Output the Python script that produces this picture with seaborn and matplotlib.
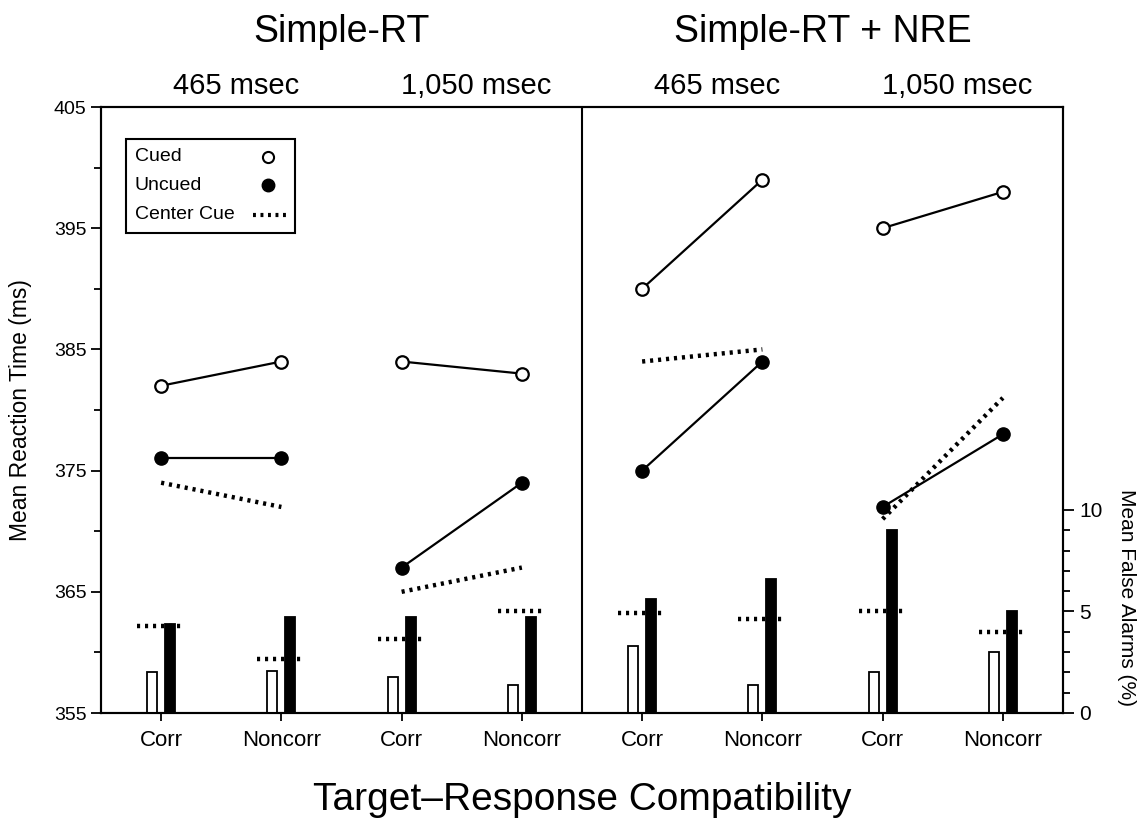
import numpy as np
import pandas as pd
import seaborn as sns
import matplotlib.pyplot as plt
from matplotlib.patches import Rectangle
from matplotlib.ticker import MultipleLocator, FixedLocator
from matplotlib.transforms import blended_transform_factory

sns.set_style("ticks", {"axes.edgecolor": "black", "xtick.color": "black",
                        "ytick.color": "black", "text.color": "black",
                        "axes.labelcolor": "black"})
plt.rcParams["font.family"] = ["Liberation Sans", "DejaVu Sans"]

# x layout: 2 tasks x 2 SOAs x 2 compatibility levels
tasks = ["Simple-RT", "Simple-RT + NRE"]
soas = ["465 msec", "1,050 msec", "465 msec", "1,050 msec"]
compat = ["Corr", "Noncorr"] * 4

# mean reaction time (ms)
rt_cued = [382, 384, 384, 383, 390, 399, 395, 398]
rt_uncued = [376, 376, 367, 374, 375, 384, 372, 378]
rt_center = [374, 372, 365, 367, 384, 385, 371, 381]

# mean false alarms (%)
fa_cued = [2.0, 2.05, 1.75, 1.4, 3.3, 1.4, 2.0, 3.0]
fa_uncued = [4.4, 4.75, 4.75, 4.75, 5.6, 6.6, 9.0, 5.0]
fa_center = [4.3, 2.65, 3.65, 5.0, 4.95, 4.65, 5.0, 4.0]

pos = np.arange(len(compat))
seg = pos // 2

rt = pd.DataFrame({
    "pos": np.tile(pos, 3),
    "seg": np.tile(seg, 3),
    "rt": rt_cued + rt_uncued + rt_center,
    "cue": ["Cued"] * 8 + ["Uncued"] * 8 + ["Center Cue"] * 8,
})
fa = pd.DataFrame({
    "pos": np.tile(pos, 2),
    "fa": fa_cued + fa_uncued,
    "cue": ["Cued"] * 8 + ["Uncued"] * 8,
})

dots = (0, (0.7, 1.1))

fig = plt.figure(figsize=(11.48, 8.24), dpi=100)
ax = fig.add_axes([101 / 1148, 1 - 713 / 824, 962 / 1148, 606 / 824])
ax2 = ax.twinx()

# RT lines
sns.lineplot(data=rt[rt.cue == "Cued"], x="pos", y="rt", units="seg",
             estimator=None, color="black", lw=1.6, marker="o", markersize=9,
             markerfacecolor="white", markeredgecolor="black",
             markeredgewidth=1.6, legend=False, ax=ax)
sns.lineplot(data=rt[rt.cue == "Uncued"], x="pos", y="rt", units="seg",
             estimator=None, color="black", lw=1.6, marker="o", markersize=9.5,
             markerfacecolor="black", markeredgecolor="black",
             markeredgewidth=1, legend=False, ax=ax)
sns.lineplot(data=rt[rt.cue == "Center Cue"], x="pos", y="rt", units="seg",
             estimator=None, color="black", lw=3.2, linestyle=dots,
             legend=False, ax=ax)

# false alarm bars on the right axis
sns.barplot(data=fa, x="pos", y="fa", hue="cue", hue_order=["Cued", "Uncued"],
            palette={"Cued": "white", "Uncued": "black"}, edgecolor="black",
            linewidth=1.3, width=0.3, gap=0.45, native_scale=True,
            errorbar=None, legend=False, ax=ax2)
ax2.hlines(fa_center, pos - 0.2, pos + 0.2, colors="black", lw=3.2,
           linestyles=[dots])

ax.axvline(3.5, color="black", lw=1.5)

ax.set_xlim(-0.5, 7.5)
ax.set_ylim(355, 405)
ax.set_yticks(range(355, 406, 10))
ax.yaxis.set_minor_locator(MultipleLocator(5))
ax.set_xticks(pos)
ax.set_xticklabels(compat, fontsize=16)
ax.tick_params(axis="y", labelsize=14, length=7, width=1.3)
ax.tick_params(axis="y", which="minor", length=5, width=1.3)
ax.tick_params(axis="x", length=6, width=1.3, pad=6)
ax.set_xlabel("")
ax.set_ylabel("Mean Reaction Time (ms)", fontsize=16.5)
ax.yaxis.set_label_coords(-0.072, 0.5)

ax2.set_xlim(-0.5, 7.5)
ax2.set_ylim(0, 29.85)
ax2.set_yticks([0, 5, 10])
ax2.yaxis.set_minor_locator(FixedLocator(range(0, 11)))
ax2.tick_params(axis="y", labelsize=15, length=8, width=1.3)
ax2.tick_params(axis="y", which="minor", length=5, width=1.3)
ax2.set_xlabel("")
ax2.set_ylabel("Mean False Alarms (%)", fontsize=15, rotation=270, va="center")
ax2.yaxis.set_label_coords(1.066, 0.19)

for a in (ax, ax2):
    for s in a.spines.values():
        s.set_linewidth(1.5)

# titles
for i, t in enumerate(tasks):
    fig.text((101 + 962 * (0.25 + 0.5 * i)) / 1148, 1 - 32 / 824, t,
             ha="center", va="center", fontsize=27)
tr = blended_transform_factory(ax.transData, fig.transFigure)
for i, s in enumerate(soas):
    ax.text(2 * i + 0.62, 1 - 86 / 824, s, transform=tr, ha="center",
            va="center", fontsize=21)
fig.text(582 / 1148, 1 - 800 / 824, "Target\u2013Response Compatibility",
         ha="center", va="center", fontsize=28)

# legend box: labels on the left, symbols on the right
ta = ax2.transAxes
ax2.add_patch(Rectangle((0.026, 0.792), 0.176, 0.155, transform=ta,
                        facecolor="white", edgecolor="black", lw=1.5,
                        zorder=5))
rows = [0.9175, 0.871, 0.822]
for y, lab in zip(rows, ["Cued", "Uncued", "Center Cue"]):
    ax2.text(0.035, y, lab, transform=ta, ha="left", va="center",
             fontsize=14, zorder=6)
ax2.plot([0.1736], [rows[0]], transform=ta, marker="o", markersize=8,
         markerfacecolor="white", markeredgecolor="black",
         markeredgewidth=1.5, zorder=6)
ax2.plot([0.1736], [rows[1]], transform=ta, marker="o", markersize=9,
         color="black", zorder=6)
ax2.plot([0.158, 0.194], [rows[2], rows[2]], transform=ta, color="black",
         lw=3, linestyle=dots, zorder=6)

fig.savefig("out.png", dpi=100)
